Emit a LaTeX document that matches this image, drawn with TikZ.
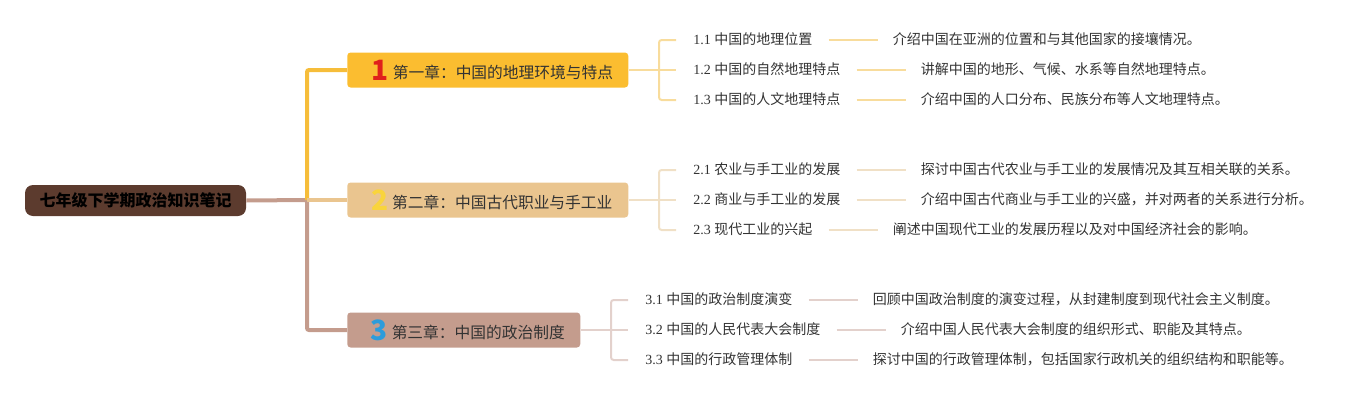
\documentclass[tikz,border=0pt]{standalone}
\usepackage{fontspec}
\setmainfont{Liberation Serif}
\newfontfamily\cjk{Noto Sans CJK SC}
\usetikzlibrary{positioning}

\definecolor{rootbrown}{HTML}{5C3B2E}
\definecolor{chone}{HTML}{FBBD30}
\definecolor{chtwo}{HTML}{EAC58F}
\definecolor{chthree}{HTML}{C49C8D}
\definecolor{trunkone}{HTML}{F6BD3A}
\definecolor{subone}{HTML}{F8DC9C}
\definecolor{subtwo}{HTML}{F0E0C6}
\definecolor{subthree}{HTML}{E3D1CC}
\definecolor{numred}{HTML}{E0201B}
\definecolor{numyellow}{HTML}{F9D43C}
\definecolor{numblue}{HTML}{2D9CDB}
\definecolor{inktext}{HTML}{333333}

\newcommand\chnum[2]{{\cjk\fontsize{21}{21}\selectfont\bfseries\color{#1}\raisebox{-1.5pt}{#2}}}

\tikzset{
  rootbox/.style={fill=rootbrown, rounded corners=6pt, minimum width=165.75pt,
    minimum height=23.25pt, inner sep=0pt, font=\cjk\fontsize{12}{14}\selectfont\bfseries, text=black},
  chapbox/.style={rounded corners=2.5pt, minimum height=26.25pt, inner xsep=0pt,
    inner ysep=0pt, anchor=west, align=left, font=\cjk\fontsize{11.8}{14}\selectfont, text=inktext},
  subitem/.style={anchor=west, inner sep=0pt, text height=8pt, text depth=2pt,
    font=\fontsize{10.5}{12}\selectfont, text=inktext},
  descitem/.style={inner sep=0pt, text height=8pt, text depth=2pt,
    font=\cjk\fontsize{10.5}{12}\selectfont, text=inktext},
  trunk/.style={line width=3pt, rounded corners=1.5pt},
  twig/.style={line width=1.5pt, rounded corners=2pt},
}

\begin{document}
\begin{tikzpicture}[x=0.75pt, y=-0.75pt, node distance=60pt]
    \useasboundingbox (0,0) rectangle (1372,400);

    % 中心主题
    \node[rootbox] (root) at (135.5,200.5) {七年级下学期政治知识笔记};

    % 三章
    \node[chapbox, fill=chone, minimum width=210.75pt] (ch1) at (347,70)
      {\hspace{7pt}\chnum{numred}{1}\hspace{3pt}第一章：中国的地理环境与特点};
    \node[chapbox, fill=chtwo, minimum width=210.75pt] (ch2) at (347,200)
      {\hspace{6pt}\chnum{numyellow}{2}\hspace{3pt}第二章：中国古代职业与手工业};
    \node[chapbox, fill=chthree, minimum width=174.75pt] (ch3) at (347,330)
      {\hspace{6pt}\chnum{numblue}{3}\hspace{3pt}第三章：中国的政治制度};

    % 主干
    \coordinate (fork) at (307,200);
    \draw[trunk, chthree] (root.east) -- (fork) |- (ch3.west);
    \draw[trunk, trunkone] (fork) |- (ch1.west);
    \draw[trunk, chtwo] (fork) -- (ch2.west);

    % 第一章
    \node[subitem] (s11) at (693,40) {1.1 {\cjk 中国的地理位置}};
    \node[subitem] (s12) at (693,70) {1.2 {\cjk 中国的自然地理特点}};
    \node[subitem] (s13) at (693,100) {1.3 {\cjk 中国的人文地理特点}};
    \node[descitem, right=of s11] (d11) {介绍中国在亚洲的位置和与其他国家的接壤情况。};
    \node[descitem, right=of s12] (d12) {讲解中国的地形、气候、水系等自然地理特点。};
    \node[descitem, right=of s13] (d13) {介绍中国的人口分布、民族分布等人文地理特点。};

    % 第二章
    \node[subitem] (s21) at (693,170) {2.1 {\cjk 农业与手工业的发展}};
    \node[subitem] (s22) at (693,200) {2.2 {\cjk 商业与手工业的发展}};
    \node[subitem] (s23) at (693,230) {2.3 {\cjk 现代工业的兴起}};
    \node[descitem, right=of s21] (d21) {探讨中国古代农业与手工业的发展情况及其互相关联的关系。};
    \node[descitem, right=of s22] (d22) {介绍中国古代商业与手工业的兴盛，并对两者的关系进行分析。};
    \node[descitem, right=of s23] (d23) {阐述中国现代工业的发展历程以及对中国经济社会的影响。};

    % 第三章
    \node[subitem] (s31) at (645,300) {3.1 {\cjk 中国的政治制度演变}};
    \node[subitem] (s32) at (645,330) {3.2 {\cjk 中国的人民代表大会制度}};
    \node[subitem] (s33) at (645,360) {3.3 {\cjk 中国的行政管理体制}};
    \node[descitem, right=of s31] (d31) {回顾中国政治制度的演变过程，从封建制度到现代社会主义制度。};
    \node[descitem, right=of s32] (d32) {介绍中国人民代表大会制度的组织形式、职能及其特点。};
    \node[descitem, right=of s33] (d33) {探讨中国的行政管理体制，包括国家行政机关的组织结构和职能等。};

    % 分支
    \foreach \c/\col in {1/subone, 2/subtwo, 3/subthree} {
      \draw[twig, \col] (ch\c.east) -- ([xshift=-25.5pt]s\c2.west);
      \draw[twig, \col] ([xshift=-12.75pt]s\c1.west) -- ([xshift=-25.5pt]s\c1.west)
        -- ([xshift=-25.5pt]s\c3.west) -- ([xshift=-12.75pt]s\c3.west);
      \draw[twig, \col] ([xshift=-25.5pt]s\c2.west) -- ([xshift=-12.75pt]s\c2.west);
      \foreach \i in {1,2,3}
        \draw[twig, \col] ([xshift=12pt]s\c\i.east) -- ([xshift=-11.25pt]d\c\i.west);
    }
\end{tikzpicture}
\end{document}
